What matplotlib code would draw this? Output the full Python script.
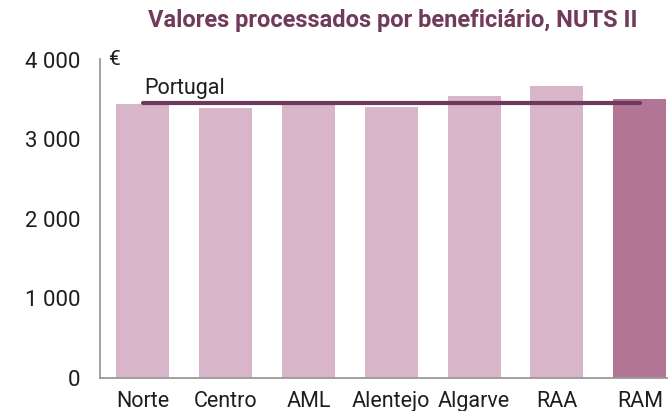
import matplotlib
matplotlib.use("Agg")
import matplotlib.pyplot as plt
from matplotlib.ticker import FuncFormatter

plt.rcParams['font.family'] = ['Roboto', 'DejaVu Sans']

regions = ["Norte", "Centro", "AML", "Alentejo", "Algarve", "RAA", "RAM"]
values = [3444, 3390, 3478, 3403, 3541, 3667, 3503]
portugal = 3449
yticks = [0, 1000, 2000, 3000, 4000]

light = "#d8b5c8"
dark = "#b37595"
line_col = "#6e3a5a"
title_col = "#713a5b"
text_col = "#1e1e1e"

W, H = 668, 411
fig = plt.figure(figsize=(W / 100, H / 100), dpi=100)
ax = fig.add_axes([99.5 / W, 1 - 377.5 / H, (668 - 99.5) / W, (377.5 - 59.5) / H])

colors = [light] * (len(regions) - 1) + [dark]
x = list(range(len(regions)))
ax.bar(x, values, width=0.64, color=colors, zorder=1)

ax.plot([0, len(regions) - 1], [portugal, portugal], color=line_col, lw=3,
        solid_capstyle='round', zorder=3)
ax.text(0.02, portugal + 180, "Portugal", fontsize=15.5, color=text_col,
        ha='left', va='center')

ax.set_xlim(-0.52, 6.34)
ax.set_ylim(0, 4000)
ax.set_yticks(yticks)
ax.yaxis.set_major_formatter(FuncFormatter(lambda v, p: f"{int(v):,}".replace(",", " ")))
ax.set_xticks(x)
ax.set_xticklabels(regions)
ax.tick_params(axis='y', length=0, pad=14, labelsize=16, labelcolor=text_col)
ax.tick_params(axis='x', length=0, pad=10, labelsize=15.5, labelcolor=text_col)

for s in ["top", "right"]:
    ax.spines[s].set_visible(False)
for s in ["left", "bottom"]:
    ax.spines[s].set_color("#9a9a9a")
    ax.spines[s].set_linewidth(1.3)

ax.text(8.5 / (668 - 99.5), 1.0, "€", transform=ax.transAxes, fontsize=15,
        color=text_col, ha='left', va='center')

fig.text(393 / W, 1 - 21 / H, "Valores processados por beneficiário, NUTS II",
         fontsize=17, fontweight='bold', color=title_col, ha='center', va='center')

fig.savefig("out.png", dpi=100)
